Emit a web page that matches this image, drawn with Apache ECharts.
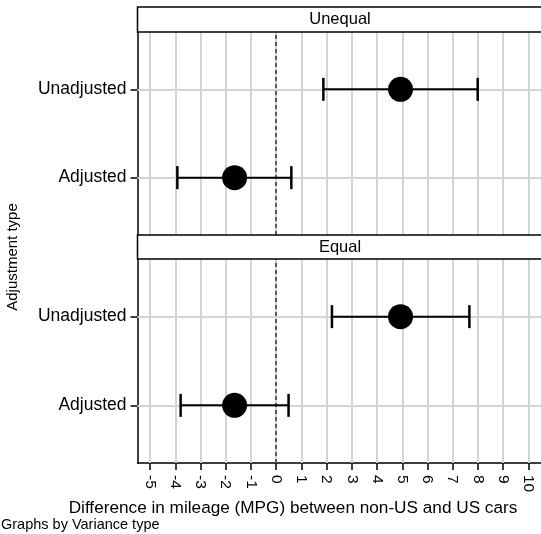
<!DOCTYPE html>
<html>
<head>
<meta charset="utf-8">
<script src="https://cdn.jsdelivr.net/npm/echarts@6/dist/echarts.min.js"></script>
<style>html,body{margin:0;padding:0;background:#fff;}#c{width:541px;height:534px;}</style>
</head>
<body>
<div id="c"></div>
<script>
// ---- data ----
const panels = ['Unequal', 'Equal'];
const categories = ['Adjusted', 'Unadjusted'];      // y positions 1, 2
const xTicks = [-5,-4,-3,-2,-1,0,1,2,3,4,5,6,7,8,9,10];
const estUnequal = [-1.65, 4.93];
const lowUnequal = [-3.92, 1.87];
const highUnequal = [0.60, 7.99];
const estEqual = [-1.65, 4.93];
const lowEqual = [-3.79, 2.21];
const highEqual = [0.49, 7.66];

const FONT = '"Liberation Sans", Arial, Helvetica, sans-serif';
const chart = echarts.init(document.getElementById('c'), null, {renderer: 'canvas'});

const catPos = categories.map((c, i) => i + 1);

function xAxisDef(idx, showLabels) {
  return {
    type: 'value', gridIndex: idx, min: -5.5, max: 10.5,
    axisLine: {show: showLabels, onZero: false, lineStyle: {color: '#000', width: 1.5}},
    axisTick: {show: showLabels, customValues: xTicks, length: 7, lineStyle: {color: '#000', width: 1.5}},
    axisLabel: {show: showLabels, customValues: xTicks, rotate: -90, margin: 12,
      color: '#000', fontSize: 15.5, fontFamily: FONT},
    splitLine: {show: false}
  };
}
function yAxisDef(idx) {
  return {
    type: 'value', gridIndex: idx, min: 0.35, max: 2.65,
    axisLine: {show: true, onZero: false, lineStyle: {color: '#000', width: 1.5}},
    axisTick: {show: true, customValues: catPos, length: 7, lineStyle: {color: '#000', width: 1.5}},
    axisLabel: {show: true, customValues: catPos, margin: 11, color: '#000', fontSize: 17.5, fontFamily: FONT,
      formatter: v => categories[Math.round(v) - 1] || ''},
    splitLine: {show: false}
  };
}

function gridLines() {
  const d = [];
  xTicks.forEach(t => d.push({xAxis: t}));
  catPos.forEach(p => d.push({yAxis: p}));
  return d;
}

function errSeries(idx, low, high) {
  return {
    type: 'custom', xAxisIndex: idx, yAxisIndex: idx, z: 15,
    data: low.map((l, i) => [l, high[i], catPos[i]]),
    renderItem: (params, api) => {
      const a = api.coord([api.value(0), api.value(2)]);
      const b = api.coord([api.value(1), api.value(2)]);
      const h = 11.5;
      const st = {stroke: '#000', lineWidth: 2};
      return {type: 'group', children: [
        {type: 'line', shape: {x1: a[0], y1: a[1], x2: b[0], y2: b[1]}, style: st},
        {type: 'line', shape: {x1: a[0], y1: a[1] - h, x2: a[0], y2: a[1] + h}, style: {stroke: '#000', lineWidth: 2.5}},
        {type: 'line', shape: {x1: b[0], y1: b[1] - h, x2: b[0], y2: b[1] + h}, style: {stroke: '#000', lineWidth: 2.5}}
      ]};
    }
  };
}
function pointSeries(idx, est) {
  return {
    type: 'scatter', xAxisIndex: idx, yAxisIndex: idx, z: 20,
    symbol: 'circle', symbolSize: 25, itemStyle: {color: '#000', opacity: 1},
    data: est.map((e, i) => [e, catPos[i]])
  };
}
function refSeries(idx) {
  return {
    type: 'line', xAxisIndex: idx, yAxisIndex: idx, data: [], z: 1,
    markLine: {
      silent: true, symbol: 'none', label: {show: false}, z: 1,
      data: [
        ...gridLines().map(g => Object.assign(g, {lineStyle: {color: '#d4d4d4', width: 2, type: 'solid'}})),
        {xAxis: 0, lineStyle: {color: '#333', width: 1.5, type: [4, 3]}}
      ]
    }
  };
}

const headerStyle = {fill: '#fff', stroke: '#000', lineWidth: 1.5};
const option = {
  animation: false,
  backgroundColor: '#fff',
  grid: [
    {left: 137.5, top: 32, width: 406, height: 203},
    {left: 137.5, top: 259, width: 406, height: 204}
  ],
  xAxis: [xAxisDef(0, false), xAxisDef(1, true)],
  yAxis: [yAxisDef(0), yAxisDef(1)],
  series: [
    refSeries(0), refSeries(1),
    errSeries(0, lowUnequal, highUnequal), errSeries(1, lowEqual, highEqual),
    pointSeries(0, estUnequal), pointSeries(1, estEqual)
  ],
  graphic: [
    {type: 'rect', shape: {x: 137.5, y: 7, width: 420, height: 25}, style: headerStyle, z: 10},
    {type: 'text', x: 340, y: 19.5, style: {text: panels[0], font: '16.5px ' + FONT, fill: '#000', align: 'center', verticalAlign: 'middle'}, z: 11},
    {type: 'rect', shape: {x: 137.5, y: 235, width: 420, height: 24}, style: headerStyle, z: 10},
    {type: 'text', x: 340, y: 247, style: {text: panels[1], font: '16.5px ' + FONT, fill: '#000', align: 'center', verticalAlign: 'middle'}, z: 11},
    {type: 'text', x: 13, y: 257, rotation: Math.PI / 2, style: {text: 'Adjustment type', font: '15px ' + FONT, fill: '#000', align: 'center', verticalAlign: 'middle'}, z: 11},
    {type: 'text', x: 293, y: 508, style: {text: 'Difference in mileage (MPG) between non-US and US cars', font: '17.2px ' + FONT, fill: '#000', align: 'center', verticalAlign: 'middle'}, z: 11},
    {type: 'text', x: 1, y: 525, style: {text: 'Graphs by Variance type', font: '14.5px ' + FONT, fill: '#000', align: 'left', verticalAlign: 'middle'}, z: 11}
  ]
};
chart.setOption(option);
</script>
</body>
</html>
